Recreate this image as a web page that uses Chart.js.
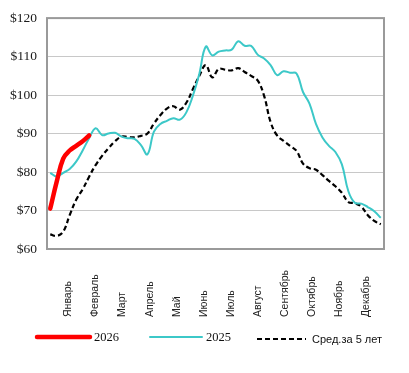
<!DOCTYPE html>
<html>
<head>
<meta charset="utf-8">
<script src="https://cdn.jsdelivr.net/npm/chart.js@4"></script>
<style>
  html, body { margin: 0; padding: 0; background: #fff; overflow: hidden; }
</style>
</head>
<body>
<canvas id="chart" width="409" height="373"></canvas>
<script>
// ---- data ----
const weeks = [1, 2, 3, 4, 5, 6, 7, 8, 9, 10, 11, 12, 13, 14, 15, 16, 17, 18, 19, 20, 21, 22, 23, 24, 25, 26,
  27, 28, 29, 30, 31, 32, 33, 34, 35, 36, 37, 38, 39, 40, 41, 42, 43, 44, 45, 46, 47, 48, 49, 50, 51, 52];
const months = ['Январь', 'Февраль', 'Март', 'Апрель', 'Май', 'Июнь', 'Июль', 'Август', 'Сентябрь', 'Октябрь', 'Ноябрь', 'Декабрь'];
const yTicks = [60, 70, 80, 90, 100, 110, 120];

const price2026 = [70.5, 77.5, 83.5, 85.6, 86.8, 88.0, 89.5];

const price2025 = [79.8, 78.8, 79.8, 80.8, 82.7, 85.6, 88.8, 91.4, 89.6, 90.0, 90.2, 89.2, 88.8,
  88.6, 87.0, 84.6, 90.5, 92.5, 93.3, 94.0, 93.6, 95.5, 99.8, 105.5, 112.6, 110.3,
  111.3, 111.6, 111.8, 114.0, 112.8, 112.8, 110.5, 109.5, 107.8, 105.2, 106.2, 105.8,
  105.6, 100.8, 97.8, 92.5, 89.0, 86.8, 85.2, 82.0, 75.0, 72.0, 71.8, 70.9, 69.8, 68.1];

const avg5y = [63.8, 63.4, 64.5, 68.8, 72.8, 75.5, 78.8, 81.8, 84.2, 86.2, 88.0, 89.2, 89.1,
  89.0, 89.4, 90.0, 92.6, 94.8, 96.5, 97.1, 96.2, 98.0, 101.5, 105.0, 107.8, 104.6,
  106.8, 106.6, 106.4, 107.0, 106.0, 105.0, 103.8, 99.8, 93.0, 89.5, 88.1, 86.8,
  85.5, 82.2, 81.0, 80.6, 79.2, 77.7, 76.3, 74.6, 72.2, 71.9, 71.0, 68.8, 67.3, 66.4];

const seriesNames = ['2026', '2025', 'Сред.за 5 лет'];

// ---- styles ----
const RED = '#ff0000';
const TEAL = '#3cc8c8';
const BLACK = '#000000';
const SERIF = '"Liberation Serif", "Times New Roman", serif';
const SANS = '"Liberation Sans", Arial, sans-serif';

const decor = {
  id: 'decor',
  afterDatasetsDraw(chart) {
    const { ctx, chartArea: a } = chart;
    ctx.save();
    ctx.strokeStyle = '#9a9a9a';
    ctx.lineWidth = 2;
    ctx.strokeRect(a.left, a.top, a.right - a.left, a.bottom - a.top);
    ctx.restore();
  },
  afterDraw(chart) {
    const { ctx } = chart;
    const x = chart.scales.x;

    // month labels, reading bottom-to-top
    ctx.save();
    ctx.fillStyle = '#222';
    ctx.font = '10.5px ' + SANS;
    ctx.textAlign = 'left';
    ctx.textBaseline = 'middle';
    months.forEach((m, i) => {
      const px = x.getPixelForValue(2.8 + i * 4.18);
      ctx.save();
      ctx.translate(px, 317);
      ctx.rotate(-Math.PI / 2);
      ctx.fillText(m, 0, 0);
      ctx.restore();
    });
    ctx.restore();

    // legend
    const items = [
      { x0: 37, x1: 90, y: 337, color: RED, width: 4.5, dash: [], font: '12.5px ' + SERIF, tx: 94 },
      { x0: 150, x1: 202, y: 337, color: TEAL, width: 2, dash: [], font: '12.5px ' + SERIF, tx: 206 },
      { x0: 257, x1: 306, y: 339, color: BLACK, width: 2.2, dash: [5, 3], font: '11px ' + SANS, tx: 312 },
    ];
    ctx.save();
    items.forEach((it, i) => {
      ctx.beginPath();
      ctx.setLineDash(it.dash);
      ctx.strokeStyle = it.color;
      ctx.lineWidth = it.width;
      ctx.lineCap = it.dash.length ? 'butt' : 'round';
      ctx.moveTo(it.x0, it.y);
      ctx.lineTo(it.x1, it.y);
      ctx.stroke();
      ctx.setLineDash([]);
      ctx.fillStyle = '#111';
      ctx.font = it.font;
      ctx.textAlign = 'left';
      ctx.textBaseline = 'middle';
      ctx.fillText(seriesNames[i], it.tx, it.y + 1);
    });
    ctx.restore();
  }
};

new Chart(document.getElementById('chart'), {
  type: 'line',
  data: {
    labels: weeks,
    datasets: [
      {
        label: seriesNames[0],
        data: price2026,
        borderColor: RED,
        borderWidth: 4.5,
        borderCapStyle: 'round',
        pointRadius: 0,
        tension: 0.4,
        fill: false,
      },
      {
        label: seriesNames[1],
        data: price2025,
        borderColor: TEAL,
        borderWidth: 2,
        pointRadius: 0,
        tension: 0.4,
        fill: false,
      },
      {
        label: seriesNames[2],
        data: avg5y,
        borderColor: BLACK,
        borderWidth: 2.2,
        borderDash: [5, 3],
        pointRadius: 0,
        tension: 0.4,
        fill: false,
      },
    ],
  },
  options: {
    responsive: false,
    animation: false,
    devicePixelRatio: 1,
    layout: { padding: { top: 16, right: 25, left: 0, bottom: 0 } },
    plugins: { legend: { display: false }, tooltip: { enabled: false } },
    scales: {
      x: {
        type: 'category',
        offset: true,
        grid: { display: false },
        border: { display: false },
        ticks: { display: false },
        afterFit: s => { s.height = 124; },
      },
      y: {
        min: yTicks[0],
        max: yTicks[yTicks.length - 1],
        afterBuildTicks: s => { s.ticks = yTicks.map(v => ({ value: v })); },
        ticks: {
          color: '#1a1a1a',
          padding: 10,
          font: { family: SERIF, size: 13.5 },
          callback: v => '$' + v,
        },
        grid: { color: '#c8c8c8', lineWidth: 1, drawTicks: false },
        border: { display: false },
        afterFit: s => { s.width = 47; },
      },
    },
  },
  plugins: [decor],
});
</script>
</body>
</html>
